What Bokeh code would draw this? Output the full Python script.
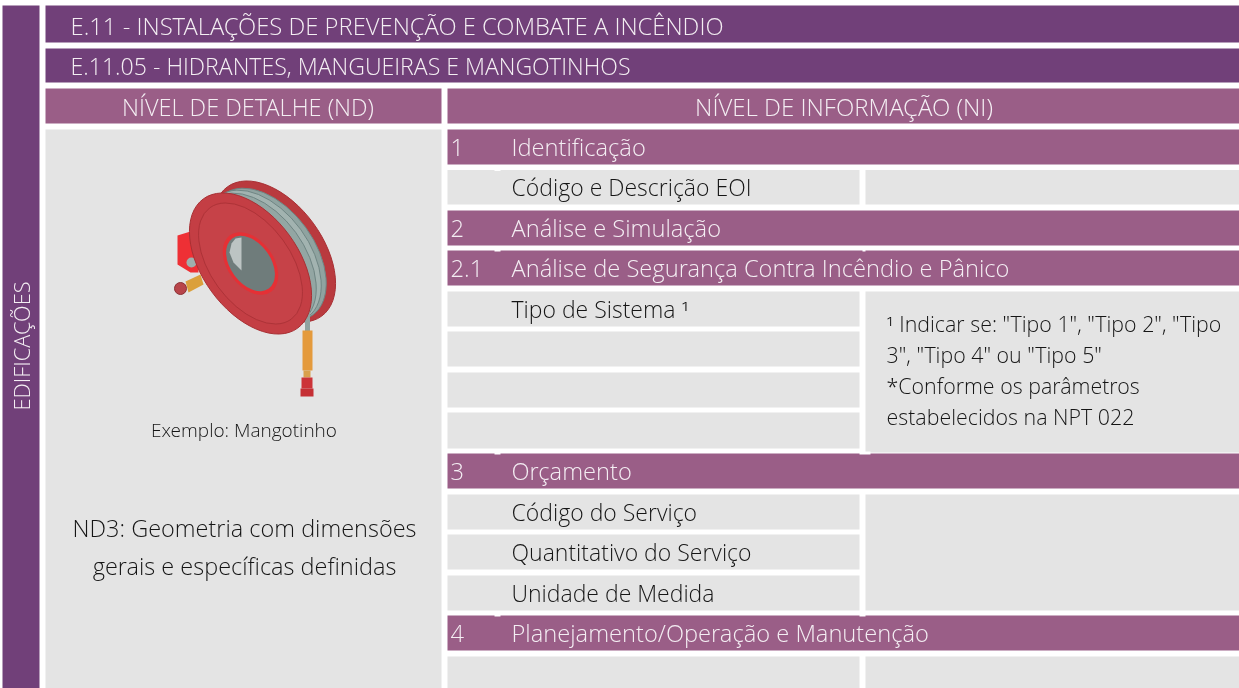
from bokeh.plotting import figure
from bokeh.embed import file_html
from bokeh.resources import INLINE
from bokeh.core.properties import value
from bokeh.models import Range1d

FONT = "Open Sans Light, Open Sans"
DARK = "#714079"
MAUVE = "#9a5e87"
GREY = "#e4e4e4"
LIGHT_TXT = "#f4eef3"
INK = "#151515"

side_label = "EDIFICAÇÕES"
title_1 = "E.11 - INSTALAÇÕES DE PREVENÇÃO E COMBATE A INCÊNDIO"
title_2 = "E.11.05 - HIDRANTES, MANGUEIRAS E MANGOTINHOS"
head_nd = "NÍVEL DE DETALHE (ND)"
head_ni = "NÍVEL DE INFORMAÇÃO (NI)"
section_nums = ["1", "2", "2.1", "3", "4"]
section_names = ["Identificação", "Análise e Simulação",
                 "Análise de Segurança Contra Incêndio e Pânico",
                 "Orçamento", "Planejamento/Operação e Manutenção"]
section_tops = [129, 210, 250, 453, 615]
section_bottoms = [164, 245, 285, 488, 650]
row_names = ["Código e Descrição EOI", "Tipo de Sistema ¹", "", "", "",
             "Código do Serviço", "Quantitativo do Serviço", "Unidade de Medida", ""]
row_tops = [169.5, 291, 331, 372, 412, 494, 534, 575, 656]
row_bottoms = [204, 326, 366, 407, 448, 529, 569, 610, 688]
right_tops = [169.5, 291, 494, 656]
right_bottoms = [204, 452, 610, 688]
note_lines = ["¹ Indicar se: \"Tipo 1\", \"Tipo 2\", \"Tipo", "3\", \"Tipo 4\" ou \"Tipo 5\"",
              "*Conforme os parâmetros", "estabelecidos na NPT 022"]
note_ys = [323, 354, 385, 416]
caption = "Exemplo: Mangotinho"
nd_lines = ["ND3: Geometria com dimensões", "gerais e específicas definidas"]

p = figure(width=1239, height=688, output_backend="svg", toolbar_location=None,
           x_range=Range1d(0, 1239), y_range=Range1d(688, 0),
           min_border=0, outline_line_color=None, background_fill_color="white")
p.axis.visible = False
p.grid.visible = False
p.styles = {"position": "fixed", "left": "0px", "top": "0px"}


def box(l, r, t, b, c):
    p.quad(left=l, right=r, top=t, bottom=b, fill_color=c, line_color=None)


def label(x, y, s, size, color, align="left", angle=0):
    p.text(x=[x], y=[y], text=[s], text_font=value(FONT), text_font_size=f"{size}px",
           text_color=color, text_align=align, text_baseline="middle", angle=angle)


box(2, 39, 5, 688, DARK)
box(45, 1239, 5, 42, DARK)
box(45, 1239, 48, 82, DARK)
box(45, 441, 88, 123, MAUVE)
box(447, 1239, 88, 123, MAUVE)
box(45, 441, 129, 688, GREY)
for t, b in zip(section_tops, section_bottoms):
    box(447, 1239, t, b, MAUVE)
for t, b in zip(row_tops, row_bottoms):
    box(447, 859, t, b, GREY)
for t, b in zip(right_tops, right_bottoms):
    box(865, 1239, t, b, GREY)

# illustration: hose reel
RED = "#c43e44"
TILT = -0.94
def ell(x, y, w, h, fill, line=None):
    p.ellipse(x=[x], y=[y], width=[w], height=[h], angle=[TILT], fill_color=fill,
              line_color=line, line_width=1)

p.patch(x=[177, 190, 198, 198, 190, 177], y=[235, 231, 236, 272, 272, 264],
        fill_color="#ee3035", line_color=None)
p.circle(x=[191], y=[262], radius=5, fill_color="#9fb0ad", line_color=None)
p.patch(x=[185, 200, 203, 188], y=[281, 274, 284, 292], fill_color="#dba03c", line_color=None)
p.circle(x=[180], y=[288], radius=6, fill_color="#b8454a", line_color="#8c3034")
ell(274, 251, 160, 96, "#b93a3e", "#a83034")
ell(268, 254, 150, 92, "#8fa3a0", "#6f8583")
ell(263, 256, 150, 92, "#a2b3b0", "#6f8583")
ell(258, 259, 150, 92, "#93a6a3", "#6f8583")
p.line(x=[307, 307], y=[305, 332], line_color="#8fa3a0", line_width=5)
ell(250, 263, 160, 96, RED, "#a83034")
ell(250, 263, 138, 80, "#c64248", "#ad3338")
ell(250, 263, 70, 46, "#e53035")
ell(250, 263, 62, 40, "#6f7c7b")
p.patch(x=[241, 241, 233, 229, 231, 235], y=[237, 270, 262, 252, 243, 238],
        fill_color="#bcc4c3", line_color=None)
p.quad(left=302, right=312, top=330, bottom=370, fill_color="#e49a3c", line_color=None)
p.quad(left=303, right=310, top=370, bottom=377, fill_color="#d9a04c", line_color=None)
p.quad(left=301, right=312, top=377, bottom=388, fill_color="#cc3338", line_color=None)
p.quad(left=300, right=313, top=388, bottom=396, fill_color="#c52f34", line_color=None)

# small white nicks at the row seams
for x0, x1, y0, y1 in [(494, 500, 168, 170.5), (494, 500, 249, 251), (862, 865, 249, 251),
                       (494, 500, 452, 454), (859, 870, 451, 454), (494, 500, 614, 616),
                       (859, 865, 614, 616)]:
    box(x0, x1, y0, y1, "white")

label(70, 25, title_1, 23.8, LIGHT_TXT)
label(70, 65, title_2, 23.1, LIGHT_TXT)
label(247.5, 106, head_nd, 23.5, LIGHT_TXT, "center")
label(843.5, 106, head_ni, 24, LIGHT_TXT, "center")
label(21, 345.5, side_label, 21.8, LIGHT_TXT, "center", 1.5708)
for n, s, t, b in zip(section_nums, section_names, section_tops, section_bottoms):
    label(450, (t + b) / 2, n, 23.7, LIGHT_TXT)
    label(511, (t + b) / 2, s, 23.7, LIGHT_TXT)
for s, t, b in zip(row_names, row_tops, row_bottoms):
    if s:
        label(511, (t + b) / 2, s, 23, INK)
for s, y in zip(note_lines, note_ys):
    label(886, y, s, 21.4, INK)
label(243.5, 429, caption, 19, INK, "center")
label(244, 527, nd_lines[0], 23.5, INK, "center")
label(244, 565, nd_lines[1], 23.5, INK, "center")

open("out.html", "w").write(file_html(p, INLINE))
